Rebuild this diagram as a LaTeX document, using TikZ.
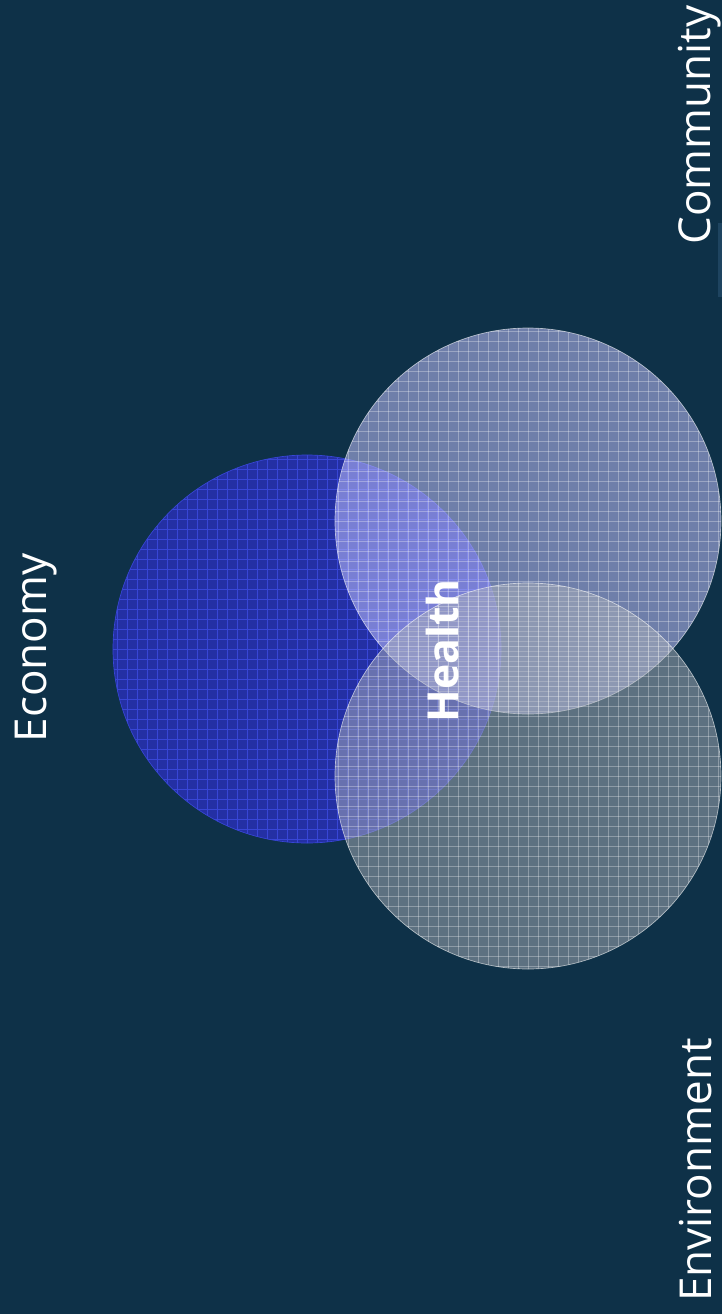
\documentclass[tikz,border=0pt]{standalone}
\usepackage{fontspec}
\newfontfamily\labelfont{Open Sans}
\definecolor{bgnavy}{RGB}{14,49,72}
\definecolor{ecofill}{RGB}{36,48,164}
\definecolor{ecogrid}{RGB}{56,70,214}
\definecolor{comfill}{RGB}{192,192,252}
\definecolor{envfill}{RGB}{172,178,186}
\definecolor{sidebar}{RGB}{30,68,96}
\tikzset{
  x=0.75pt, y=-0.75pt,
  setlabel/.style={text=white, inner sep=0pt, rotate=90, anchor=base,
    font=\labelfont\fontsize{33}{36}\selectfont},
  corelabel/.style={text=white, inner sep=0pt, rotate=90, anchor=base,
    font=\labelfont\bfseries\fontsize{32}{36}\selectfont},
}
% square mesh of 10-unit cells around a centre (#1,#2)
\newcommand{\meshlines}[3]{%
  \foreach \k in {-20,...,20}{%
    \draw[#3] ({#1+10*\k},{#2-200}) -- ({#1+10*\k},{#2+200});
    \draw[#3] ({#1-200},{#2+10*\k}) -- ({#1+200},{#2+10*\k});
  }%
}
\begin{document}
\begin{tikzpicture}
  \useasboundingbox (0,0) rectangle (722,1314);
  \fill[bgnavy] (0,0) rectangle (722,1314);
  \fill[sidebar] (718,223) rectangle (722,297);

  % Economy set
  \fill[ecofill] (307,649) circle (194);
  \begin{scope}
    \clip (307,649) circle (194);
    \meshlines{307}{649}{ecogrid, line width=0.75pt}
  \end{scope}
  \draw[ecogrid, line width=0.5pt] (307,649) circle (194);

  % Community set
  \fill[comfill, fill opacity=0.55] (528,521) circle (193);
  \begin{scope}
    \clip (528,521) circle (193);
    \meshlines{528}{521}{white, draw opacity=0.3, line width=0.75pt}
  \end{scope}
  \draw[white, draw opacity=0.6, line width=0.5pt] (528,521) circle (193);

  % Environment set
  \fill[envfill, fill opacity=0.5] (528,776) circle (193);
  \begin{scope}
    \clip (528,776) circle (193);
    \meshlines{528}{776}{white, draw opacity=0.3, line width=0.75pt}
  \end{scope}
  \draw[white, draw opacity=0.6, line width=0.5pt] (528,776) circle (193);

  % Labels
  \node[setlabel] (economy) at (46,648) {Economy};
  \node[setlabel] (community) at (710,125) {Community};
  \node[setlabel] (environment) at (711,1170) {Environment};
  \node[corelabel] (health) at (458,651) {Health};
\end{tikzpicture}
\end{document}
